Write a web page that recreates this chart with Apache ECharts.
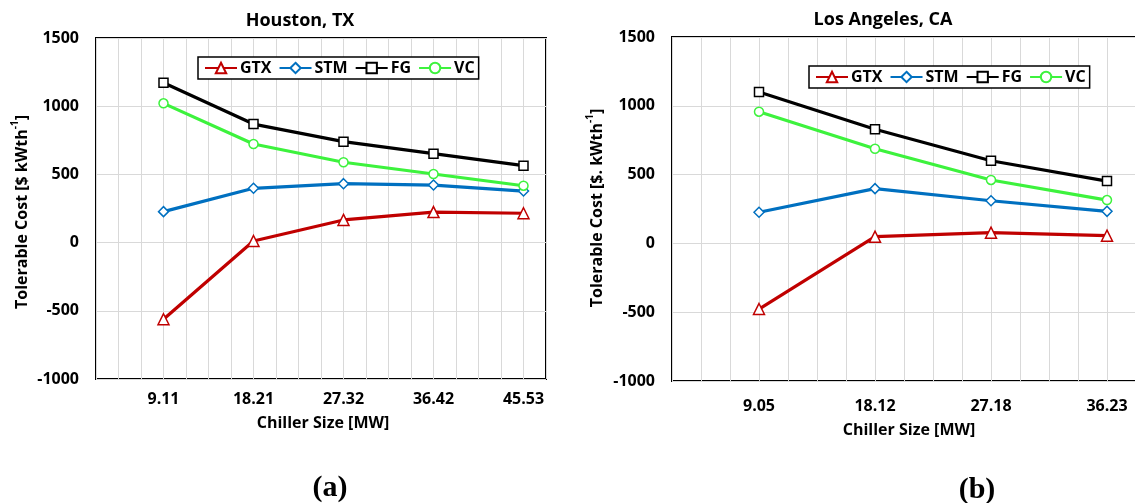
<!DOCTYPE html>
<html>
<head>
<meta charset="utf-8">
<script src="https://cdn.jsdelivr.net/npm/echarts@6/dist/echarts.min.js"></script>
<style>
  html, body { margin: 0; padding: 0; background: #fff; }
  #chart { width: 1135px; height: 503px; }
</style>
</head>
<body>
<div id="chart"></div>
<script>
// Chiller sizes [MW] and tolerable cost [$/kWth] per technology
const sizesHouston = ['9.11', '18.21', '27.32', '36.42', '45.53'];
const houstonGTX = [-562, 12, 166, 224, 215];
const houstonSTM = [227, 398, 432, 422, 378];
const houstonFG  = [1172, 869, 740, 652, 564];
const houstonVC  = [1021, 723, 589, 503, 417];

const sizesLA = ['9.05', '18.12', '27.18', '36.23'];
const laGTX = [-477, 49, 78, 56];
const laSTM = [226, 398, 310, 233];
const laFG  = [1100, 829, 601, 453];
const laVC  = [957, 688, 461, 315];

const costTicks = [-1000, -500, 0, 500, 1000, 1500];

const FONT = '"Open Sans", Lato, sans-serif';
const styles = {
  GTX: { color: '#C00000', symbol: 'triangle', size: 11 },
  STM: { color: '#0070C0', symbol: 'diamond', size: 10 },
  FG:  { color: '#000000', symbol: 'rect', size: 9 },
  VC:  { color: '#3DF23D', symbol: 'circle', size: 9 }
};

function makeSeries(name, values, gridIdx) {
  const s = styles[name];
  return {
    name: name,
    type: 'line',
    xAxisIndex: gridIdx,
    yAxisIndex: gridIdx,
    data: values.map((v, i) => [i, v]),
    symbol: s.symbol,
    symbolSize: s.size,
    showAllSymbol: true,
    lineStyle: { color: s.color, width: 3.2 },
    itemStyle: { color: '#ffffff', borderColor: s.color, borderWidth: 1.5 },
    emphasis: { disabled: true },
    z: 3
  };
}

function xAxisFor(gridIdx, labels) {
  return {
    type: 'value',
    gridIndex: gridIdx,
    min: -0.75,
    max: 4.25,
    interval: 0.25,
    axisLine: { show: false },
    axisTick: { show: false },
    splitLine: { show: true, lineStyle: { color: '#d9d9d9', width: 1 } },
    axisLabel: {
      margin: gridIdx === 0 ? 12 : 17,
      color: '#000',
      fontFamily: FONT,
      fontWeight: 'bold',
      fontSize: 16,
      hideOverlap: false,
      formatter: function (v) {
        const i = Math.round(v);
        return Math.abs(v - i) < 1e-6 && labels[i] !== undefined ? labels[i] : '';
      }
    }
  };
}

function yAxisFor(gridIdx) {
  return {
    type: 'value',
    gridIndex: gridIdx,
    min: costTicks[0],
    max: costTicks[costTicks.length - 1],
    interval: costTicks[1] - costTicks[0],
    axisLine: { show: false },
    axisTick: { show: false },
    splitLine: { show: true, lineStyle: { color: '#d9d9d9', width: 1 } },
    axisLabel: {
      margin: 17,
      color: '#000',
      fontFamily: FONT,
      fontWeight: 'bold',
      fontSize: 16,
      formatter: function (v) { return String(v); }
    }
  };
}

function legendFor(left, top) {
  return {
    left: left,
    top: top,
    orient: 'horizontal',
    data: ['GTX', 'STM', 'FG', 'VC'],
    itemWidth: 32,
    itemHeight: 13,
    itemGap: 7,
    padding: [3, 4, 3, 6],
    borderColor: '#000',
    borderWidth: 1.5,
    backgroundColor: '#fff',
    selectedMode: false,
    textStyle: { color: '#000', fontFamily: FONT, fontWeight: 'bold', fontSize: 16, padding: [0, 0, 0, -2] }
  };
}

function label(x, y, text, font, rotation) {
  return {
    type: 'text',
    x: x,
    y: y,
    rotation: rotation || 0,
    style: { text: text, font: font, fill: '#000', align: 'center', verticalAlign: 'middle' }
  };
}

function costTitle(x, y, prefix) {
  return {
    type: 'text',
    x: x,
    y: y,
    rotation: Math.PI / 2,
    style: {
      text: '{a|' + prefix + '}{s|-1}{a|]}',
      align: 'center',
      verticalAlign: 'middle',
      rich: {
        a: { font: 'bold 16px ' + FONT, fill: '#000', verticalAlign: 'bottom', lineHeight: 20 },
        s: { font: 'bold 10px ' + FONT, fill: '#000', verticalAlign: 'top', lineHeight: 20 }
      }
    }
  };
}

const chart = echarts.init(document.getElementById('chart'), null, { renderer: 'canvas' });

chart.setOption({
  animation: false,
  backgroundColor: '#ffffff',
  grid: [
    { left: 96, top: 38, width: 450, height: 341, outerBoundsMode: 'none', show: true, borderColor: '#000', borderWidth: 2, backgroundColor: 'transparent', containLabel: false },
    // the Los Angeles panel runs past the right edge of the figure
    { left: 672, top: 37, width: 580, height: 344, outerBoundsMode: 'none', show: true, borderColor: '#000', borderWidth: 2, backgroundColor: 'transparent', containLabel: false }
  ],
  xAxis: [xAxisFor(0, sizesHouston), xAxisFor(1, sizesLA)],
  yAxis: [yAxisFor(0), yAxisFor(1)],
  legend: [legendFor(198, 57), legendFor(809, 66)],
  series: [
    makeSeries('GTX', houstonGTX, 0),
    makeSeries('STM', houstonSTM, 0),
    makeSeries('FG', houstonFG, 0),
    makeSeries('VC', houstonVC, 0),
    makeSeries('GTX', laGTX, 1),
    makeSeries('STM', laSTM, 1),
    makeSeries('FG', laFG, 1),
    makeSeries('VC', laVC, 1)
  ],
  graphic: [
    label(300, 21, 'Houston, TX', 'bold 18px ' + FONT),
    label(883, 20, 'Los Angeles, CA', 'bold 18px ' + FONT),
    label(323, 423, 'Chiller Size [MW]', 'bold 16px ' + FONT),
    label(909, 430, 'Chiller Size [MW]', 'bold 16px ' + FONT),
    costTitle(20, 212, 'Tolerable Cost [$ kWth'),
    costTitle(595, 208, 'Tolerable Cost [$. kWth'),
    label(330, 488, '(a)', 'bold 30px "Liberation Serif", "Times New Roman", serif'),
    label(977, 490, '(b)', 'bold 30px "Liberation Serif", "Times New Roman", serif')
  ]
});
</script>
</body>
</html>
